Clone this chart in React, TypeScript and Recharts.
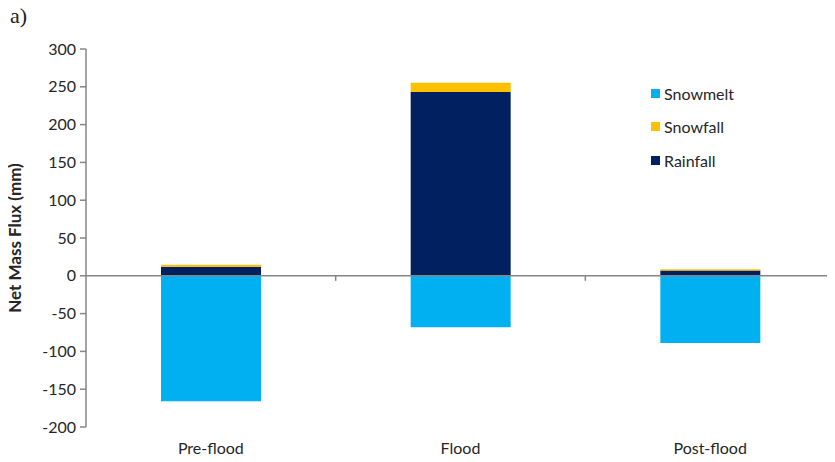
import React from "react";
import { BarChart, Bar, XAxis, YAxis, ReferenceLine } from "recharts";

const periods = ["Pre-flood", "Flood", "Post-flood"];
const rainfall = [12, 243, 7];
const snowfall = [2.5, 12.5, 1.5];
const snowmelt = [-166, -68, -89];
const yTicks = [-200, -150, -100, -50, 0, 50, 100, 150, 200, 250, 300];

const COLORS = { snowmelt: "#00B0F0", snowfall: "#FFC000", rainfall: "#002060" };
const AXIS_GRAY = "#868686";
const TEXT = "#262626";
const FONT = "Lato, 'Open Sans', sans-serif";

const legendItems = [
  { name: "Snowmelt", color: COLORS.snowmelt },
  { name: "Snowfall", color: COLORS.snowfall },
  { name: "Rainfall", color: COLORS.rainfall },
];

const data = periods.map((p, i) => ({
  period: p,
  rainfall: rainfall[i],
  snowfall: snowfall[i],
  snowmelt: snowmelt[i],
}));

// Zero line drawn across the plot, with small ticks at each category boundary
const ZeroLine = (props: any) => {
  const { x1, x2, y1 } = props;
  const n = periods.length;
  const step = (x2 - x1) / n;
  const marks = [];
  for (let k = 1; k < n; k++) {
    const x = x1 + step * k;
    marks.push(<line key={k} x1={x} x2={x} y1={y1} y2={y1 + 5} stroke={AXIS_GRAY} strokeWidth={1.5} />);
  }
  return (
    <g>
      <line x1={x1} x2={x2} y1={y1} y2={y1} stroke={AXIS_GRAY} strokeWidth={1.5} />
      {marks}
    </g>
  );
};

export default function App() {
  return (
    <div style={{ position: "relative", width: 835, height: 462, margin: -8, background: "#fff" }}>
      <div
        style={{
          position: "absolute",
          left: 10,
          top: 3,
          fontFamily: "'Liberation Serif', 'DejaVu Serif', serif",
          fontSize: 22,
          color: "#222",
        }}
      >
        a)
      </div>
      <BarChart
        width={835}
        height={462}
        data={data}
        stackOffset="sign"
        margin={{ top: 49, right: 0, bottom: 0, left: 0 }}
      >
        <XAxis
          dataKey="period"
          axisLine={false}
          tickLine={false}
          height={35}
          tickMargin={10}
          tick={{ fill: TEXT, fontSize: 16, fontFamily: FONT }}
        />
        <YAxis
          width={86}
          domain={[-200, 300]}
          ticks={yTicks}
          interval={0}
          stroke={AXIS_GRAY}
          strokeWidth={1.5}
          tickSize={6}
          tickMargin={4}
          tick={{ fill: TEXT, fontSize: 16, fontFamily: FONT }}
          label={{
            value: "Net Mass Flux (mm)",
            angle: -90,
            position: "insideLeft",
            dx: 10,
            style: { textAnchor: "middle", fill: TEXT, fontSize: 17, fontWeight: 700, fontFamily: FONT },
          }}
        />
        <Bar dataKey="snowmelt" stackId="a" fill={COLORS.snowmelt} barSize={100} isAnimationActive={false} />
        <Bar dataKey="rainfall" stackId="a" fill={COLORS.rainfall} barSize={100} isAnimationActive={false} />
        <Bar dataKey="snowfall" stackId="a" fill={COLORS.snowfall} barSize={100} isAnimationActive={false} />
        <ReferenceLine y={0} shape={ZeroLine} />
      </BarChart>
      <div style={{ position: "absolute", left: 651, top: 82, fontFamily: FONT, fontSize: 16, color: TEXT }}>
        {legendItems.map((it) => (
          <div key={it.name} style={{ display: "flex", alignItems: "center", height: 22, marginBottom: 11.5 }}>
            <span style={{ display: "inline-block", width: 9, height: 9, background: it.color, marginRight: 4 }} />
            {it.name}
          </div>
        ))}
      </div>
    </div>
  );
}
